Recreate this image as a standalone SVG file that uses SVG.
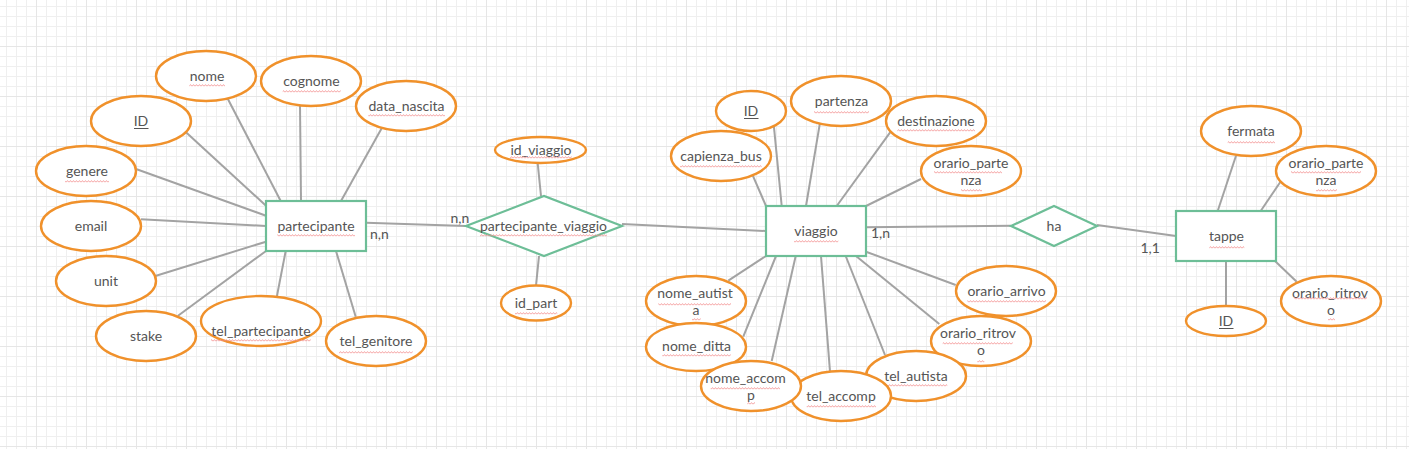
<svg xmlns="http://www.w3.org/2000/svg" width="1409" height="449" viewBox="0 0 1409 449">
<defs>
<pattern id="gridMinor" x="6" y="6" width="10" height="10" patternUnits="userSpaceOnUse">
<path d="M0.5 0 V10 M0 0.5 H10" stroke="#efefef" stroke-width="1" fill="none"/>
</pattern>
<pattern id="gridMajor" x="36" y="46" width="50" height="50" patternUnits="userSpaceOnUse">
<path d="M0.5 0 V50 M0 0.5 H50" stroke="#e6e6e6" stroke-width="1" fill="none"/>
</pattern>
<pattern id="sq" x="0" y="0" width="3" height="3" patternUnits="userSpaceOnUse">
<path d="M0 2.4 L1.5 0.6 L3 2.4" stroke="#f28b8b" stroke-width="0.8" fill="none"/>
</pattern>
<style>
.attr{fill:#ffffff;stroke:#F0912B;stroke-width:2.4}
.ent{fill:#ffffff;stroke:#6DBE97;stroke-width:2.2}
.rel{fill:#ffffff;stroke:#6DBE97;stroke-width:2.2}
.cn{stroke:#A3A3A3;stroke-width:2;fill:none}
text{font-family:Lato,"Liberation Sans",sans-serif;font-size:14px;fill:#555555;text-anchor:middle}
.lbl{text-anchor:start}
.sq{fill:url(#sq)}
.ul{stroke:#555555;stroke-width:1}
</style>
</defs>
<rect x="0" y="0" width="1409" height="449" fill="#ffffff"/>
<rect x="0" y="0" width="1409" height="449" fill="url(#gridMinor)"/>
<rect x="0" y="0" width="1409" height="449" fill="url(#gridMajor)"/>

<g id="connectors">
<line class="cn" x1="226.7" y1="96.7" x2="280.7" y2="201"/>
<line class="cn" x1="300" y1="105.7" x2="301" y2="201"/>
<line class="cn" x1="381.7" y1="128.3" x2="341" y2="201"/>
<line class="cn" x1="186" y1="132.3" x2="266" y2="205.7"/>
<line class="cn" x1="136.7" y1="169.3" x2="266" y2="215.7"/>
<line class="cn" x1="141" y1="219.3" x2="266" y2="226"/>
<line class="cn" x1="155.3" y1="276" x2="266" y2="241.7"/>
<line class="cn" x1="177.7" y1="316" x2="266" y2="251"/>
<line class="cn" x1="275" y1="306" x2="285.7" y2="251"/>
<line class="cn" x1="355.7" y1="316.7" x2="336" y2="251"/>
<line class="cn" x1="366" y1="222.7" x2="466" y2="226"/>
<line class="cn" x1="537.7" y1="163.3" x2="541" y2="196"/>
<line class="cn" x1="539" y1="256" x2="536" y2="285.7"/>
<line class="cn" x1="622" y1="224" x2="766" y2="231"/>
<line class="cn" x1="752.3" y1="174.3" x2="766" y2="206"/>
<line class="cn" x1="773.7" y1="124.3" x2="781.7" y2="206"/>
<line class="cn" x1="820" y1="122.7" x2="806" y2="206"/>
<line class="cn" x1="890.7" y1="131.7" x2="836.7" y2="206"/>
<line class="cn" x1="921" y1="179" x2="866" y2="206"/>
<line class="cn" x1="728.3" y1="280.7" x2="766" y2="256"/>
<line class="cn" x1="743.3" y1="336.7" x2="776" y2="256"/>
<line class="cn" x1="771.7" y1="361" x2="795.7" y2="256"/>
<line class="cn" x1="830" y1="371.7" x2="821" y2="256"/>
<line class="cn" x1="885" y1="355" x2="845.7" y2="256"/>
<line class="cn" x1="939.3" y1="324" x2="856" y2="256"/>
<line class="cn" x1="955.7" y1="285" x2="866" y2="251.7"/>
<line class="cn" x1="866" y1="227.3" x2="1011" y2="225.7"/>
<line class="cn" x1="1097" y1="225" x2="1176" y2="236"/>
<line class="cn" x1="1236" y1="155.7" x2="1217.7" y2="211"/>
<line class="cn" x1="1281" y1="181" x2="1260.7" y2="211"/>
<line class="cn" x1="1296.7" y1="281.7" x2="1275" y2="261"/>
<line class="cn" x1="1226" y1="261" x2="1226" y2="306"/>
<text class="lbl" x="370" y="239">n,n</text>
<text class="lbl" x="450.5" y="223">n,n</text>
<text class="lbl" x="871" y="238">1,n</text>
<text class="lbl" x="1140.5" y="253">1,1</text>
</g>

<g id="partecipante">
<rect class="ent" x="266" y="201" width="100" height="50"/>
<text x="316" y="231">partecipante</text>
<rect class="sq" x="277.3" y="234" width="77.7" height="3"/>
</g>
<g id="p_nome">
<ellipse class="attr" cx="206" cy="76" rx="50" ry="25"/>
<text x="207" y="81">nome</text>
<rect class="sq" x="189.3" y="84" width="35.7" height="3"/>
</g>
<g id="p_cognome">
<ellipse class="attr" cx="311" cy="81" rx="50" ry="25"/>
<text x="311.5" y="86">cognome</text>
<rect class="sq" x="282.7" y="90" width="58" height="3"/>
</g>
<g id="p_data_nascita">
<ellipse class="attr" cx="406" cy="106" rx="50" ry="25"/>
<text x="406.5" y="111">data_nascita</text>
<rect class="sq" x="368.3" y="114" width="76.7" height="3"/>
</g>
<g id="p_ID">
<ellipse class="attr" cx="141" cy="121" rx="50" ry="25"/>
<text x="141" y="126">ID</text>
<line class="ul" x1="134" y1="128.5" x2="148.5" y2="128.5"/>
</g>
<g id="p_genere">
<ellipse class="attr" cx="86" cy="171" rx="50" ry="25"/>
<text x="87" y="176">genere</text>
<rect class="sq" x="65" y="180" width="44" height="3"/>
</g>
<g id="p_email">
<ellipse class="attr" cx="91" cy="226" rx="50" ry="25"/>
<text x="91" y="231">email</text>
</g>
<g id="p_unit">
<ellipse class="attr" cx="106" cy="281" rx="50" ry="25"/>
<text x="106" y="286">unit</text>
</g>
<g id="p_stake">
<ellipse class="attr" cx="146" cy="336" rx="50" ry="25"/>
<text x="146" y="341">stake</text>
</g>
<g id="p_tel_partecipante">
<ellipse class="attr" cx="261" cy="321" rx="60" ry="25"/>
<text x="261" y="336">tel_partecipante</text>
<rect class="sq" x="211" y="339" width="99.7" height="3"/>
</g>
<g id="p_tel_genitore">
<ellipse class="attr" cx="376" cy="341" rx="50" ry="25"/>
<text x="376" y="346">tel_genitore</text>
<rect class="sq" x="339" y="351" width="73.7" height="3"/>
</g>

<g id="partecipante_viaggio">
<polygon class="rel" points="466,226 544,196 622,226 544,256"/>
<text x="543.5" y="231">partecipante_viaggio</text>
<rect class="sq" x="480" y="234" width="126.7" height="3"/>
</g>
<g id="pv_id_viaggio">
<ellipse class="attr" cx="540.5" cy="150" rx="45.5" ry="13"/>
<text x="541" y="155">id_viaggio</text>
<rect class="sq" x="510" y="156" width="61.7" height="3"/>
</g>
<g id="pv_id_part">
<ellipse class="attr" cx="536" cy="303" rx="35" ry="17.5"/>
<text x="536" y="308">id_part</text>
<rect class="sq" x="515" y="312" width="42.3" height="3"/>
</g>

<g id="viaggio">
<rect class="ent" x="766" y="206" width="100" height="50"/>
<text x="816" y="236">viaggio</text>
<rect class="sq" x="794" y="240" width="44.3" height="3"/>
</g>
<g id="v_ID">
<ellipse class="attr" cx="751" cy="111" rx="35" ry="20"/>
<text x="751" y="116">ID</text>
<line class="ul" x1="744" y1="118.5" x2="758.5" y2="118.5"/>
</g>
<g id="v_partenza">
<ellipse class="attr" cx="841" cy="101" rx="50" ry="25"/>
<text x="841.5" y="106">partenza</text>
<rect class="sq" x="814" y="111" width="55" height="3"/>
</g>
<g id="v_destinazione">
<ellipse class="attr" cx="936" cy="121" rx="50" ry="25"/>
<text x="936" y="126">destinazione</text>
<rect class="sq" x="897.3" y="129" width="77.7" height="3"/>
</g>
<g id="v_orario_partenza">
<ellipse class="attr" cx="971" cy="171" rx="50" ry="25"/>
<text x="971" y="168">orario_parte</text>
<text x="971" y="185">nza</text>
<rect class="sq" x="934" y="171" width="68" height="3"/>
<rect class="sq" x="961" y="189" width="21" height="3"/>
</g>
<g id="v_capienza_bus">
<ellipse class="attr" cx="721" cy="156" rx="50" ry="25"/>
<text x="721" y="161">capienza_bus</text>
<rect class="sq" x="680" y="165" width="81.7" height="3"/>
</g>
<g id="v_orario_arrivo">
<ellipse class="attr" cx="1006" cy="291" rx="50" ry="25"/>
<text x="1006.5" y="296">orario_arrivo</text>
<rect class="sq" x="967.3" y="300" width="78.7" height="3"/>
</g>
<g id="v_orario_ritrovo">
<ellipse class="attr" cx="981" cy="341" rx="50" ry="25"/>
<text x="978" y="338">orario_ritrov</text>
<text x="981" y="355">o</text>
<rect class="sq" x="942.7" y="342" width="70" height="3"/>
<rect class="sq" x="977.3" y="360" width="7" height="3"/>
</g>
<g id="v_tel_autista">
<ellipse class="attr" cx="916" cy="376" rx="50" ry="25"/>
<text x="916" y="381">tel_autista</text>
<rect class="sq" x="884" y="384" width="63.3" height="3"/>
</g>
<g id="v_tel_accomp">
<ellipse class="attr" cx="841" cy="396" rx="50" ry="25"/>
<text x="841" y="401">tel_accomp</text>
<rect class="sq" x="806.7" y="405" width="69.3" height="3"/>
</g>
<g id="v_nome_autista">
<ellipse class="attr" cx="696" cy="301" rx="50" ry="25"/>
<text x="695" y="298">nome_autist</text>
<text x="696" y="315">a</text>
<rect class="sq" x="658.3" y="303" width="72.7" height="3"/>
<rect class="sq" x="692" y="318" width="8.7" height="3"/>
</g>
<g id="v_nome_ditta">
<ellipse class="attr" cx="696" cy="347" rx="50" ry="24"/>
<text x="696.5" y="351">nome_ditta</text>
<rect class="sq" x="662.3" y="354" width="68.4" height="3"/>
</g>
<g id="v_nome_accomp">
<ellipse class="attr" cx="751" cy="386" rx="50" ry="25"/>
<text x="745.5" y="383">nome_accom</text>
<text x="751" y="400">p</text>
<rect class="sq" x="710.7" y="387" width="69.3" height="3"/>
<rect class="sq" x="747.3" y="402" width="7.7" height="3"/>
</g>

<g id="ha">
<polygon class="rel" points="1011,226 1054,206 1097,226 1054,246"/>
<text x="1054" y="231">ha</text>
</g>

<g id="tappe">
<rect class="ent" x="1176" y="211" width="100" height="50"/>
<text x="1226.5" y="241">tappe</text>
<rect class="sq" x="1209.3" y="246" width="35" height="3"/>
</g>
<g id="t_fermata">
<ellipse class="attr" cx="1251" cy="131" rx="50" ry="25"/>
<text x="1251" y="136">fermata</text>
<rect class="sq" x="1227.7" y="141" width="47.3" height="3"/>
</g>
<g id="t_orario_partenza">
<ellipse class="attr" cx="1326" cy="171" rx="50" ry="25"/>
<text x="1326" y="168">orario_parte</text>
<text x="1326" y="185">nza</text>
<rect class="sq" x="1291" y="171" width="70" height="3"/>
<rect class="sq" x="1316" y="189" width="21" height="3"/>
</g>
<g id="t_orario_ritrovo">
<ellipse class="attr" cx="1331" cy="301" rx="50" ry="25"/>
<text x="1330" y="298">orario_ritrov</text>
<text x="1331" y="315">o</text>
<rect class="sq" x="1294" y="297" width="73" height="3"/>
<rect class="sq" x="1328" y="318" width="7" height="3"/>
</g>
<g id="t_ID">
<ellipse class="attr" cx="1226" cy="321" rx="40" ry="15"/>
<text x="1226" y="326">ID</text>
<line class="ul" x1="1219" y1="328.5" x2="1233.5" y2="328.5"/>
</g>
</svg>
